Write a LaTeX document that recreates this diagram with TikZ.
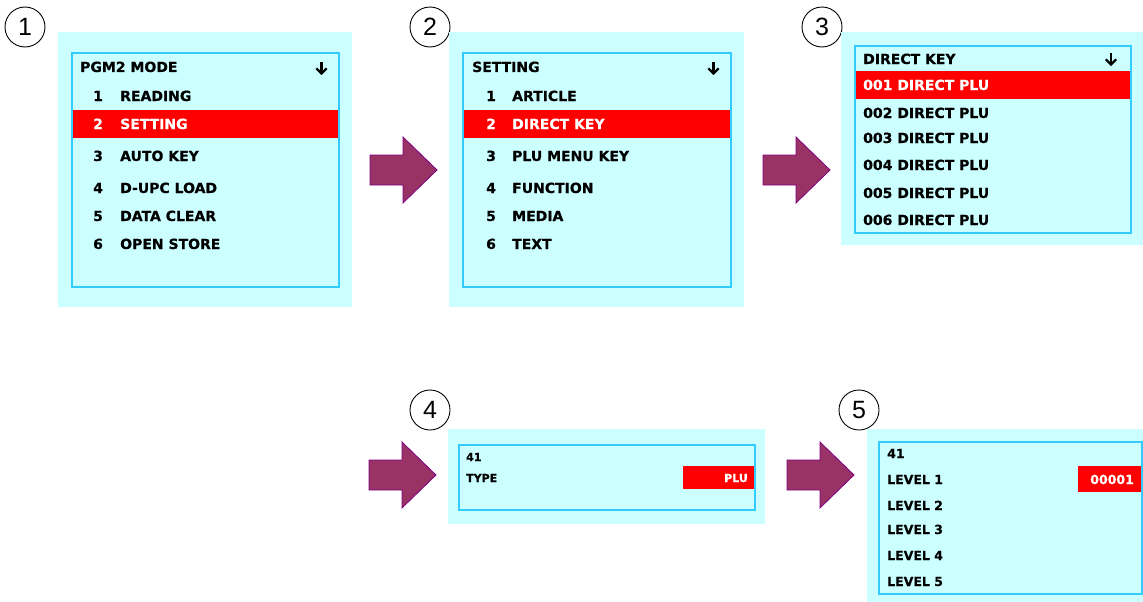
\documentclass[tikz,border=0pt]{standalone}
\usepackage{fontspec}
\setmainfont{DejaVu Sans}
\newfontfamily\numfont{Liberation Sans}
\newfontfamily\lcdfont[FakeBold=0.5]{DejaVu Sans Bold}
\definecolor{panelbg}{HTML}{CCFFFF}
\definecolor{framecol}{HTML}{33CCFF}
\definecolor{selred}{HTML}{FF0000}
\definecolor{arrowfill}{HTML}{993366}
\definecolor{arrowline}{HTML}{800080}
\tikzset{
  bgpanel/.style={fill=panelbg, draw=none, inner sep=0pt, outer sep=0pt},
  lcdframe/.style={draw=framecol, line width=1.4pt, fill=none, inner sep=0pt},
  selbar/.style={fill=selred, draw=none, inner sep=0pt},
  stepnum/.style={circle, draw=black, line width=0.9pt, minimum size=40pt, inner sep=0pt,
    font=\numfont\fontsize{25}{25}\selectfont},
  lcdtext/.style={anchor=base west, inner sep=0pt, font=\lcdfont\fontsize{14}{15}\selectfont},
  lcdsmall/.style={anchor=base west, inner sep=0pt, font=\lcdfont\fontsize{11}{12}\selectfont},
  lcdmid/.style={anchor=base west, inner sep=0pt, font=\lcdfont\fontsize{12.5}{13}\selectfont},
  seltext/.style={text=white},
  flowarrow/.pic={
    \path[fill=arrowfill, draw=arrowline, line width=0.8pt]
      (0,-15) -- (33,-15) -- (33,-33) -- (67,0) -- (33,33) -- (33,15) -- (0,15) -- cycle;
  },
  scrollmark/.pic={
    \draw[line width=2.2pt] (0,-5.5) -- (0,5);
    \draw[line width=2.2pt, line join=miter] (-5.2,0.3) -- (0,5.5) -- (5.2,0.3);
  }
}
\begin{document}
\begin{tikzpicture}[x=1pt, y=-1pt]
\useasboundingbox (0,0) rectangle (1143,602);

% ---------- step 1: PGM2 MODE ----------
\node[stepnum] (c1) at (25,27) {1};
\node[bgpanel, minimum width=294pt, minimum height=275pt] (p1) at (205,169.5) {};
\node[selbar, minimum width=267pt, minimum height=28pt] (s1) at (205.5,124) {};
\node[lcdframe, minimum width=267pt, minimum height=234pt] (f1) at (205.5,170) {};
\node[lcdtext] (t1) at (80,72) {PGM2 MODE};
\pic at (321.5,68) {scrollmark};
\foreach \n/\txt/\y in {1/READING/101, 2/SETTING/129, 3/AUTO KEY/161, 4/D-UPC LOAD/193, 5/DATA CLEAR/221, 6/OPEN STORE/249}{
  \ifnum\n=2
    \node[lcdtext, seltext] (a\n) at (93,\y) {\n};
    \node[lcdtext, seltext] (b\n) at (120,\y) {\txt};
  \else
    \node[lcdtext] (a\n) at (93,\y) {\n};
    \node[lcdtext] (b\n) at (120,\y) {\txt};
  \fi
}

% ---------- step 2: SETTING ----------
\node[stepnum] (c2) at (430,27) {2};
\node[bgpanel, minimum width=295pt, minimum height=275pt] (p2) at (596.5,169.5) {};
\node[selbar, minimum width=268pt, minimum height=28pt] (s2) at (597,124) {};
\node[lcdframe, minimum width=268pt, minimum height=234pt] (f2) at (597,170) {};
\node[lcdtext] (t2) at (472,72) {SETTING};
\pic at (713.5,68) {scrollmark};
\foreach \n/\txt/\y in {1/ARTICLE/101, 2/DIRECT KEY/129, 3/PLU MENU KEY/161, 4/FUNCTION/193, 5/MEDIA/221, 6/TEXT/249}{
  \ifnum\n=2
    \node[lcdtext, seltext] (e\n) at (486,\y) {\n};
    \node[lcdtext, seltext] (g\n) at (512,\y) {\txt};
  \else
    \node[lcdtext] (e\n) at (486,\y) {\n};
    \node[lcdtext] (g\n) at (512,\y) {\txt};
  \fi
}

% ---------- step 3: DIRECT KEY ----------
\node[stepnum] (c3) at (822,27) {3};
\node[bgpanel, minimum width=302pt, minimum height=213pt] (p3) at (992,138.5) {};
\node[selbar, minimum width=276pt, minimum height=28pt] (s3) at (993,85) {};
\node[lcdframe, minimum width=276pt, minimum height=187pt] (f3) at (993,139.5) {};
\node[lcdtext] (t3) at (863,64) {DIRECT KEY};
\pic at (1111,59) {scrollmark};
\node[lcdtext, seltext] (h1) at (863,90) {001 DIRECT PLU};
\foreach \n/\y in {2/118, 3/143, 4/170, 5/198, 6/225}{
  \node[lcdtext] (h\n) at (863,\y) {00\n\ DIRECT PLU};
}

% ---------- step 4: TYPE ----------
\node[stepnum] (c4) at (430,410) {4};
\node[bgpanel, minimum width=317pt, minimum height=95pt] (p4) at (606.5,476.5) {};
\node[selbar, minimum width=72pt, minimum height=23pt] (s4) at (719,477.5) {};
\node[lcdframe, minimum width=296pt, minimum height=65pt] (f4) at (607,477.5) {};
\node[lcdsmall] (k1) at (466,461) {41};
\node[lcdsmall] (k2) at (466,482) {TYPE};
\node[lcdsmall, seltext, anchor=base east] (k3) at (748,482) {PLU};

% ---------- step 5: LEVEL ----------
\node[stepnum] (c5) at (859,410) {5};
\node[bgpanel, minimum width=276pt, minimum height=173pt] (p5) at (1005,515.5) {};
\node[selbar, minimum width=64pt, minimum height=26pt] (s5) at (1110,479) {};
\node[lcdframe, minimum width=263pt, minimum height=152pt] (f5) at (1010.5,518) {};
\node[lcdmid] (m0) at (887,458) {41};
\foreach \n/\y in {1/484, 2/510, 3/534, 4/560, 5/586}{
  \node[lcdmid] (m\n) at (887,\y) {LEVEL \n};
}
\node[lcdmid, seltext, anchor=base east] (m6) at (1134,484) {00001};

% ---------- flow arrows between steps ----------
\pic at (370,170) {flowarrow};
\pic at (763,170) {flowarrow};
\pic at (369,475) {flowarrow};
\pic at (787,475) {flowarrow};
\end{tikzpicture}
\end{document}
